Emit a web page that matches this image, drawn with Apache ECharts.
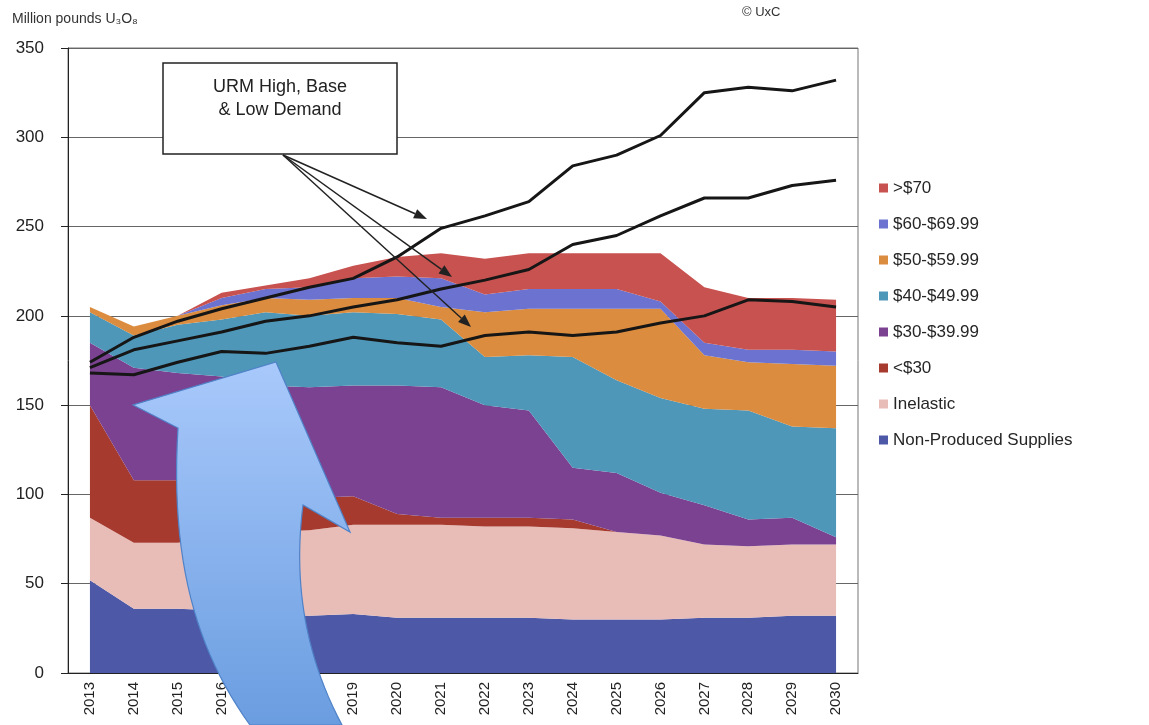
<!DOCTYPE html>
<html>
<head>
<meta charset="utf-8">
<script src="https://cdn.jsdelivr.net/npm/echarts@6/dist/echarts.min.js"></script>
<style>
  html, body { margin: 0; padding: 0; background: #fff; }
  #chart { width: 1149px; height: 725px; }
</style>
</head>
<body>
<div id="chart"></div>
<script>
// years on the x axis
const years = ['2013', '2014', '2015', '2016', '2017', '2018', '2019', '2020', '2021',
  '2022', '2023', '2024', '2025', '2026', '2027', '2028', '2029', '2030'];

// supply tranches, bottom of the stack first (million lb U3O8)
const nonProduced = [52, 36, 36, 35, 33, 32, 33, 31, 31, 31, 31, 30, 30, 30, 31, 31, 32, 32];
const inelastic   = [35, 37, 37, 41, 46, 48, 50, 52, 52, 51, 51, 51, 49, 47, 41, 40, 40, 40];
const under30     = [63, 35, 35, 29, 21, 18, 16, 6, 4, 5, 5, 5, 0, 0, 0, 0, 0, 0];
const from30      = [35, 63, 60, 61, 61, 62, 62, 72, 73, 63, 60, 29, 33, 24, 22, 15, 15, 4];
const from40      = [17, 18, 27, 32, 41, 40, 41, 40, 38, 27, 31, 62, 52, 53, 54, 61, 51, 61];
const from50      = [3, 5, 5, 8, 8, 9, 8, 9, 7, 25, 26, 27, 40, 50, 30, 27, 35, 35];
const from60      = [0, 0, 0, 4, 5, 7, 11, 12, 16, 10, 11, 11, 11, 4, 7, 7, 8, 8];
const over70      = [0, 0, 0, 3, 2, 5, 7, 11, 14, 20, 20, 20, 20, 27, 31, 29, 29, 29];

// URM demand scenarios
const demandHigh = [174, 188, 197, 204, 210, 216, 221, 233, 249, 256, 264, 284, 290, 301, 325, 328, 326, 332];
const demandBase = [171, 181, 186, 191, 197, 200, 205, 209, 215, 220, 226, 240, 245, 256, 266, 266, 273, 276];
const demandLow  = [168, 167, 174, 180, 179, 183, 188, 185, 183, 189, 191, 189, 191, 196, 200, 209, 208, 205];

const yTicks = [0, 50, 100, 150, 200, 250, 300, 350];

const FONT = 'Liberation Sans, Arial, sans-serif';

let chart = echarts.init(document.getElementById('chart'));

function area(name, data, color) {
  return {
    name: name,
    type: 'line',
    stack: 'supply',
    data: data,
    symbol: 'none',
    lineStyle: { width: 0 },
    itemStyle: { color: color },
    areaStyle: { color: color, opacity: 1 },
    z: 2
  };
}

function demand(name, data) {
  return {
    name: name,
    type: 'line',
    data: data,
    symbol: 'none',
    lineStyle: { color: '#161616', width: 3 },
    z: 5
  };
}

// thin arrow from the text box to a demand line (annotation only)
function pointer(x1, y1, x2, y2) {
  let a = Math.atan2(y2 - y1, x2 - x1);
  let len = 13, half = 5;
  let bx = x2 - len * Math.cos(a), by = y2 - len * Math.sin(a);
  return [
    {
      type: 'line', z: 20,
      shape: { x1: x1, y1: y1, x2: bx, y2: by },
      style: { stroke: '#222', lineWidth: 1.5 }
    },
    {
      type: 'polygon', z: 20,
      shape: {
        points: [[x2, y2],
          [bx + half * Math.sin(a), by - half * Math.cos(a)],
          [bx - half * Math.sin(a), by + half * Math.cos(a)]]
      },
      style: { fill: '#222' }
    }
  ];
}

// sample a cubic bezier into points (for the curved overlay arrow)
function bezier(p0, p1, p2, p3, n) {
  let pts = [];
  for (let i = 1; i <= n; i++) {
    let t = i / n, u = 1 - t;
    pts.push([
      u * u * u * p0[0] + 3 * u * u * t * p1[0] + 3 * u * t * t * p2[0] + t * t * t * p3[0],
      u * u * u * p0[1] + 3 * u * u * t * p1[1] + 3 * u * t * t * p2[1] + t * t * t * p3[1]
    ]);
  }
  return pts;
}

let bigArrow = [[276, 362], [350, 532], [303, 505]]
  .concat(bezier([303, 505], [294, 575], [302, 650], [342, 725], 24))
  .concat([[250, 725]])
  .concat(bezier([250, 725], [196, 650], [170, 560], [178, 428], 24))
  .concat([[133, 405]]);

let legendNames = ['>$70', '$60-$69.99', '$50-$59.99', '$40-$49.99', '$30-$39.99', '<$30', 'Inelastic', 'Non-Produced Supplies'];

chart.setOption({
  animation: false,
  textStyle: { fontFamily: FONT },
  grid: {
    left: 68, right: 291, top: 48, bottom: 52,
    show: true, borderColor: '#777', borderWidth: 1
  },
  legend: {
    orient: 'vertical',
    left: 874,
    top: 174,
    data: legendNames,
    icon: 'rect',
    itemWidth: 9,
    itemHeight: 9,
    itemGap: 18,
    textStyle: { fontSize: 17, color: '#262626', lineHeight: 18, fontFamily: FONT }
  },
  xAxis: {
    type: 'category',
    data: years,
    boundaryGap: true,
    axisLine: { lineStyle: { color: '#222', width: 1 } },
    axisTick: { length: 6, lineStyle: { color: '#222' } },
    axisLabel: { rotate: 90, fontSize: 15, color: '#222', margin: 9, fontFamily: FONT }
  },
  yAxis: {
    type: 'value',
    min: yTicks[0],
    max: yTicks[yTicks.length - 1],
    interval: 50,
    axisLine: { show: true, lineStyle: { color: '#222', width: 1 } },
    axisTick: { show: true, length: 7, lineStyle: { color: '#222' } },
    axisLabel: { fontSize: 17, color: '#222', margin: 24, fontFamily: FONT },
    splitLine: { lineStyle: { color: '#666', width: 1 } }
  },
  series: [
    area('Non-Produced Supplies', nonProduced, '#4d59a6'),
    area('Inelastic', inelastic, '#e8bdb8'),
    area('<$30', under30, '#a63a2f'),
    area('$30-$39.99', from30, '#7a4290'),
    area('$40-$49.99', from40, '#4e97b9'),
    area('$50-$59.99', from50, '#db8c3e'),
    area('$60-$69.99', from60, '#6b72cf'),
    area('>$70', over70, '#c8524f'),
    demand('High Demand', demandHigh),
    demand('Base Demand', demandBase),
    demand('Low Demand', demandLow)
  ],
  graphic: [
    {
      type: 'text', x: 12, y: 12,
      style: { text: 'Million pounds U\u2083O\u2088', fill: '#333', font: '14px ' + FONT }
    },
    {
      type: 'text', x: 742, y: 6,
      style: { text: '\u00a9 UxC', fill: '#333', font: '13px ' + FONT }
    },
    // callout box
    {
      type: 'rect', z: 20,
      shape: { x: 163, y: 63, width: 234, height: 91 },
      style: { fill: '#fff', stroke: '#222', lineWidth: 1.5 }
    },
    {
      type: 'text', z: 21,
      x: 280, y: 76,
      style: {
        text: 'URM High, Base\n& Low Demand',
        font: '18px ' + FONT, fill: '#222',
        align: 'center', lineHeight: 23
      }
    },
    ...pointer(283, 155, 427, 219),
    ...pointer(283, 155, 452, 277),
    ...pointer(283, 155, 471, 327),
    // big blue overlay arrow
    {
      type: 'polygon', z: 30,
      shape: { points: bigArrow },
      style: {
        fill: new echarts.graphic.LinearGradient(0, 0, 0, 1, [
          { offset: 0, color: '#a9c9fb' },
          { offset: 1, color: '#6a9de0' }
        ]),
        stroke: '#4f82c8',
        lineWidth: 1.2
      }
    }
  ]
});
</script>
</body>
</html>
